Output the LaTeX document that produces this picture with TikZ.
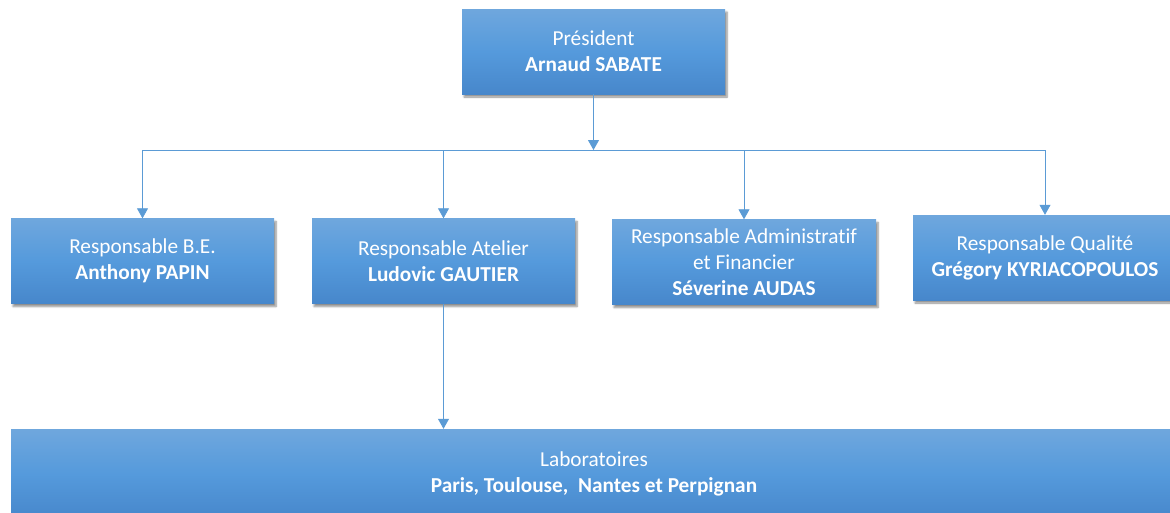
\documentclass[tikz,border=0pt]{standalone}
\usepackage{fontspec}
\setmainfont{Carlito}[Ligatures=NoCommon]
\usetikzlibrary{arrows.meta,shadows.blur}
\definecolor{boxtop}{HTML}{6FA7DD}
\definecolor{boxmid}{HTML}{559ADC}
\definecolor{boxbot}{HTML}{4787CB}
\definecolor{linkcol}{HTML}{5B9BD5}
\tikzset{
  orgbox/.style={draw=none, minimum height=85pt, align=center, text=white,
    top color=boxtop, bottom color=boxbot, middle color=boxmid,
    font=\fontsize{21.3}{26}\selectfont, inner sep=0pt,
    blur shadow={shadow xshift=2pt, shadow yshift=-3pt, shadow blur steps=6, shadow opacity=45}},
  link/.style={draw=linkcol, line width=0.8pt, -{Triangle[length=10pt,width=11pt]}},
}
\begin{document}
\begin{tikzpicture}[x=1pt,y=-1pt]
\useasboundingbox (0,0) rectangle (1170,512);
% President
\node[orgbox, minimum width=263pt] (pres) at (593.5,51.5) {Président\\\textbf{Arnaud SABATE}};
% Second level
\node[orgbox, minimum width=263pt] (be) at (142.5,261) {Responsable B.E.\\\textbf{Anthony PAPIN}};
\node[orgbox, minimum width=263pt] (atel) at (443.5,261) {Responsable Atelier\\\textbf{Ludovic GAUTIER}};
\node[orgbox, minimum width=264pt] (adm) at (744,262) {Responsable Administratif\\et Financier\\\textbf{Séverine AUDAS}};
\node[orgbox, minimum width=264pt] (qual) at (1045,257.5) {Responsable Qualité\\\textbf{Grégory KYRIACOPOULOS}};
% Laboratories
\node[orgbox, minimum width=1166pt, minimum height=90pt] (lab) at (594,474) {Laboratoires\\\textbf{Paris, Toulouse,\ \ Nantes et Perpignan}};
% Connectors
\coordinate (bus) at (593.5,150);
\draw[link] (pres.south) -- (bus);
\draw[draw=linkcol, line width=0.8pt] (be.north |- bus) -- (qual.north |- bus);
\draw[link] (be.north |- bus) -- (be.north);
\draw[link] (atel.north |- bus) -- (atel.north);
\draw[link] (adm.north |- bus) -- (adm.north);
\draw[link] (qual.north |- bus) -- (qual.north);
\draw[link] (atel.south) -- (atel.south |- lab.north);
\end{tikzpicture}
\end{document}
